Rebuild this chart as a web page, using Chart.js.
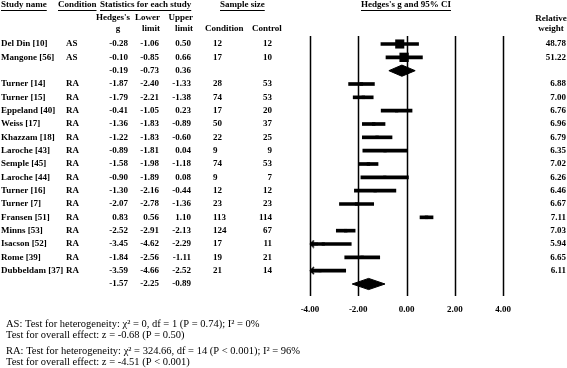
<!DOCTYPE html>
<html>
<head>
  <title>Hedges's g and 95% CI</title>
  <script src="https://cdn.jsdelivr.net/npm/chart.js"></script>
  <style>
    body {
      margin: 0;
      background-color: #fff;
    }

    .plot-container {
      position: relative;
      width: 567px;
      height: 368px;
    }
  </style>
</head>
<body>
  <div class="plot-container">
    <canvas id="forestChart"></canvas>
  </div>

  <script>
    // one entry per study, in table order
    const studyNames = ['Del Din [10]', 'Mangone [56]', 'Turner [14]', 'Turner [15]', 'Eppeland [40]', 'Weiss [17]',
      'Khazzam [18]', 'Laroche [43]', 'Semple [45]', 'Laroche [44]', 'Turner [16]', 'Turner [7]', 'Fransen [51]',
      'Minns [53]', 'Isacson [52]', 'Rome [39]', 'Dubbeldam [37]'];
    const conditions = ['AS', 'AS', 'RA', 'RA', 'RA', 'RA', 'RA', 'RA', 'RA', 'RA', 'RA', 'RA', 'RA', 'RA', 'RA', 'RA', 'RA'];
    const hedgesG = [-0.28, -0.10, -1.87, -1.79, -0.41, -1.36, -1.22, -0.89, -1.58, -0.90, -1.30, -2.07, 0.83, -2.52, -3.45, -1.84, -3.59];
    const lowerLimit = [-1.06, -0.85, -2.40, -2.21, -1.05, -1.83, -1.83, -1.81, -1.98, -1.89, -2.16, -2.78, 0.56, -2.91, -4.62, -2.56, -4.66];
    const upperLimit = [0.50, 0.66, -1.33, -1.38, 0.23, -0.89, -0.60, 0.04, -1.18, 0.08, -0.44, -1.36, 1.10, -2.13, -2.29, -1.11, -2.52];
    const nCondition = [12, 17, 28, 74, 17, 50, 22, 9, 74, 9, 12, 23, 113, 124, 17, 19, 21];
    const nControl = [12, 10, 53, 53, 20, 37, 25, 9, 53, 7, 12, 23, 114, 67, 11, 21, 14];
    const relativeWeight = [48.78, 51.22, 6.88, 7.00, 6.76, 6.96, 6.79, 6.35, 7.02, 6.26, 6.46, 6.67, 7.11, 7.03, 5.94, 6.65, 6.11];

    // pooled result per condition
    const groups = ['AS', 'RA'];
    const summaryG = [-0.19, -1.57];
    const summaryLower = [-0.73, -2.25];
    const summaryUpper = [0.36, -0.89];

    const xTicks = [-4, -2, 0, 2, 4];

    const footerLines = [
      'AS: Test for heterogeneity: \u03c7\u00b2 = 0, df = 1 (P = 0.74); I\u00b2 = 0%',
      'Test for overall effect: z = -0.68 (P = 0.50)',
      'RA: Test for heterogeneity: \u03c7\u00b2 = 324.66, df = 14 (P < 0.001); I\u00b2 = 96%',
      'Test for overall effect: z = -4.51 (P < 0.001)'
    ];

    // table rows: studies of a group, then its pooled line
    const studyRow = [];
    const summaryRow = [];
    let rowCount = 0;
    groups.forEach((grp, gi) => {
      conditions.forEach((c, i) => {
        if (c === grp) studyRow[i] = rowCount++;
      });
      summaryRow[gi] = rowCount++;
    });

    const xMin = xTicks[0];
    const xMax = xTicks[xTicks.length - 1];
    const serif = '"Liberation Serif", "Times New Roman", serif';

    // little open arrow head for intervals running off the left edge
    function makeArrowHead() {
      const c = document.createElement('canvas');
      c.width = 16;
      c.height = 9;
      const g = c.getContext('2d');
      g.strokeStyle = '#000';
      g.lineWidth = 1.6;
      g.beginPath();
      g.moveTo(12, 1);
      g.lineTo(8.5, 4.5);
      g.lineTo(12, 8);
      g.stroke();
      g.fillRect(8, 3.2, 8, 2.6);
      return c;
    }

    const squareSize = relativeWeight.map(w => 0.92 * Math.sqrt(w));
    const DIAMOND_HALF = 0.42;

    const datasets = [];

    datasets.push({
      type: 'scatter',
      order: 0,
      data: hedgesG.map((g, i) => ({ x: g, y: studyRow[i] })),
      pointStyle: 'rect',
      pointRadius: squareSize,
      pointHoverRadius: squareSize,
      pointBackgroundColor: '#000',
      pointBorderWidth: 0
    });

    datasets.push({
      type: 'bar',
      indexAxis: 'y',
      order: 2,
      clip: 0,
      data: hedgesG.map((_, i) => ({ x: [lowerLimit[i], upperLimit[i]], y: studyRow[i] })),
      backgroundColor: '#000',
      borderWidth: 0,
      barThickness: 3
    });

    summaryG.forEach((g, k) => {
      const r = summaryRow[k];
      datasets.push({
        type: 'line',
        order: 1,
        data: [
          { x: summaryLower[k], y: r },
          { x: g, y: r - DIAMOND_HALF },
          { x: summaryUpper[k], y: r },
          { x: g, y: r + DIAMOND_HALF },
          { x: summaryLower[k], y: r }
        ],
        borderColor: '#000',
        backgroundColor: '#000',
        borderWidth: 1,
        pointRadius: 0,
        tension: 0,
        fill: 'shape'
      });
    });

    datasets.push({
      type: 'scatter',
      order: 0,
      clip: false,
      data: lowerLimit.map((lo, i) => lo < xMin ? { x: xMin, y: studyRow[i] } : null).filter(p => p),
      pointStyle: makeArrowHead(),
      pointRadius: 5
    });

    function drawText(ctx, str, x, y, align, underline) {
      ctx.textAlign = align;
      ctx.fillText(str, x, y);
      if (underline) {
        const w = ctx.measureText(str).width;
        const x0 = align === 'center' ? x - w / 2 : align === 'right' ? x - w : x;
        ctx.fillRect(x0, y + 5, w, 1);
      }
    }

    // the vertical reference lines, one per x tick, across the plot rows
    const refLinesPlugin = {
      id: 'refLines',
      beforeDatasetsDraw(chart) {
        const { ctx, chartArea, scales } = chart;
        ctx.save();
        ctx.strokeStyle = '#000';
        ctx.lineWidth = 1.5;
        xTicks.forEach(v => {
          const px = Math.round(scales.x.getPixelForValue(v)) + 0.5;
          ctx.beginPath();
          ctx.moveTo(px, chartArea.top);
          ctx.lineTo(px, chartArea.bottom);
          ctx.stroke();
        });
        ctx.restore();
      }
    };

    const tablePlugin = {
      id: 'tableText',
      afterDraw(chart) {
        const ctx = chart.ctx;
        const yScale = chart.scales.y;
        ctx.save();
        ctx.fillStyle = '#000';
        ctx.textBaseline = 'middle';
        ctx.font = 'bold 9px ' + serif;

        // headers
        drawText(ctx, 'Study name', 1, 5, 'left', true);
        drawText(ctx, 'Condition', 58, 5, 'left', true);
        drawText(ctx, 'Statistics for each study', 100, 5, 'left', true);
        drawText(ctx, 'Sample size', 220, 5, 'left', true);
        drawText(ctx, "Hedges's g and 95% CI", 406, 5, 'center', true);

        drawText(ctx, "Hedges's", 113, 18, 'center');
        drawText(ctx, 'g', 118, 29, 'center');
        drawText(ctx, 'Lower', 160, 18, 'right');
        drawText(ctx, 'limit', 160, 29, 'right');
        drawText(ctx, 'Upper', 193, 18, 'right');
        drawText(ctx, 'limit', 193, 29, 'right');
        drawText(ctx, 'Condition', 205, 29, 'left');
        drawText(ctx, 'Control', 252, 29, 'left');
        drawText(ctx, 'Relative', 551, 19, 'center');
        drawText(ctx, 'weight', 551, 29, 'center');

        studyNames.forEach((name, i) => {
          const py = yScale.getPixelForValue(studyRow[i]);
          drawText(ctx, name, 1, py, 'left');
          drawText(ctx, conditions[i], 66, py, 'left');
          drawText(ctx, hedgesG[i].toFixed(2), 128, py, 'right');
          drawText(ctx, lowerLimit[i].toFixed(2), 159, py, 'right');
          drawText(ctx, upperLimit[i].toFixed(2), 191, py, 'right');
          drawText(ctx, String(nCondition[i]), 213, py, 'left');
          drawText(ctx, String(nControl[i]), 272, py, 'right');
          drawText(ctx, relativeWeight[i].toFixed(2), 566, py, 'right');
        });

        summaryG.forEach((g, k) => {
          const py = yScale.getPixelForValue(summaryRow[k]);
          drawText(ctx, g.toFixed(2), 128, py, 'right');
          drawText(ctx, summaryLower[k].toFixed(2), 159, py, 'right');
          drawText(ctx, summaryUpper[k].toFixed(2), 191, py, 'right');
        });

        // heterogeneity notes
        ctx.font = '10.5px ' + serif;
        const footY = [324, 335, 351, 362];
        footerLines.forEach((line, i) => drawText(ctx, line, 6, footY[i], 'left'));
        ctx.restore();
      }
    };

    new Chart(document.getElementById('forestChart'), {
      type: 'scatter',
      data: { datasets: datasets },
      options: {
        responsive: true,
        maintainAspectRatio: false,
        animation: false,
        layout: {
          padding: { left: 310, right: 64, top: 36, bottom: 54 }
        },
        plugins: {
          legend: { display: false },
          tooltip: { enabled: false }
        },
        scales: {
          x: {
            type: 'linear',
            min: xMin,
            max: xMax,
            afterBuildTicks: scale => {
              scale.ticks = xTicks.map(v => ({ value: v }));
            },
            afterFit: scale => {
              scale.height = 18;
            },
            ticks: {
              callback: v => v.toFixed(2),
              color: '#000',
              padding: 8,
              maxRotation: 0,
              font: { family: serif, weight: 'bold', size: 9 }
            },
            grid: { display: false, drawTicks: false },
            border: { display: false }
          },
          y: {
            type: 'linear',
            display: false,
            reverse: true,
            offset: false,
            min: -0.6,
            max: rowCount - 1 + 0.9
          }
        }
      },
      plugins: [refLinesPlugin, tablePlugin]
    });
  </script>
</body>
</html>
